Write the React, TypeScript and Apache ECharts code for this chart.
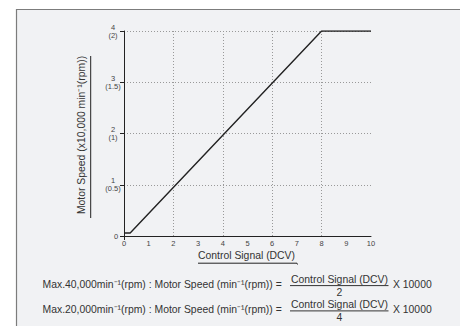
import React, { useEffect, useRef } from "react";
import * as echarts from "echarts";

const controlSignal = [0, 0.25, 8, 10];
const motorSpeed = [0.06, 0.06, 4, 4];
const xTickValues = [0, 1, 2, 3, 4, 5, 6, 7, 8, 9, 10];
const yTickLabels = ["0", "1\n(0.5)", "2\n(1)", "3\n(1.5)", "4\n(2)"];
const verticalGrid = [2, 4, 6, 8];
const xAxisName = "Control Signal (DCV)";
const yAxisName = "Motor Speed (x10,000 min\u207B\u00B9(rpm))";
const formulaLeft = [
  "Max.40,000min\u207B\u00B9(rpm) : Motor Speed (min\u207B\u00B9(rpm)) =",
  "Max.20,000min\u207B\u00B9(rpm) : Motor Speed (min\u207B\u00B9(rpm)) =",
];
const formulaNumerator = ["Control Signal (DCV)", "Control Signal (DCV)"];
const formulaDenominator = ["2", "4"];
const formulaRight = ["X 10000", "X 10000"];

const FONT = "'Liberation Sans', Arial, Helvetica, sans-serif";
const TEXT = "#333";

export default function App() {
  const ref = useRef<HTMLDivElement>(null);
  useEffect(() => {
    if (!ref.current) return;
    const chart = echarts.init(ref.current, undefined, { renderer: "svg" });
    const rows = [284, 309.3];
    const formulaGraphics: any[] = [];
    rows.forEach((y, i) => {
      formulaGraphics.push(
        { type: "text", x: 42.5, y, style: { text: formulaLeft[i], font: `10.4px ${FONT}`, fill: TEXT, align: "left", verticalAlign: "middle" } },
        { type: "text", x: 339.5, y: y - 4.6, style: { text: formulaNumerator[i], font: `10.4px ${FONT}`, fill: TEXT, align: "center", verticalAlign: "middle" } },
        { type: "line", shape: { x1: 290, y1: y + 1.6, x2: 388.5, y2: y + 1.6 }, style: { stroke: "#333", lineWidth: 1 } },
        { type: "text", x: 339.5, y: y + 8.6, style: { text: formulaDenominator[i], font: `10.4px ${FONT}`, fill: TEXT, align: "center", verticalAlign: "middle" } },
        { type: "text", x: 393, y, style: { text: formulaRight[i], font: `10.4px ${FONT}`, fill: TEXT, align: "left", verticalAlign: "middle" } }
      );
    });
    chart.setOption({
      animation: false,
      backgroundColor: "#ffffff",
      textStyle: { fontFamily: FONT },
      grid: { left: 124, right: 89, top: 31, bottom: 90, containLabel: false },
      xAxis: {
        type: "value",
        min: 0,
        max: 10,
        interval: 1,
        axisLine: { show: true, onZero: false, lineStyle: { color: "#222", width: 1 } },
        axisTick: { show: true, customValues: [0], length: 4, lineStyle: { color: "#222" } },
        axisLabel: { fontSize: 7.5, color: "#444", margin: 3, customValues: xTickValues },
        splitLine: { show: false },
      },
      yAxis: {
        type: "value",
        min: 0,
        max: 4,
        interval: 1,
        axisLine: { show: true, onZero: false, lineStyle: { color: "#222", width: 1 } },
        axisTick: { show: true, length: 4, lineStyle: { color: "#222" } },
        axisLabel: {
          fontSize: 7.5,
          color: "#444",
          lineHeight: 8,
          margin: 11,
          align: "center",
          formatter: (v: number) => (v === 0 ? "{z|" + yTickLabels[0] + "}" : yTickLabels[Math.round(v)]),
          rich: { z: { fontSize: 7.5, color: "#444", padding: [0, 0, 0, 6] } },
        },
        splitLine: { show: true, lineStyle: { color: "#999", type: [1, 2], width: 1 } },
      },
      series: [
        {
          type: "line",
          data: controlSignal.map((x, i) => [x, motorSpeed[i]]),
          symbol: "none",
          lineStyle: { color: "#222", width: 1.4 },
          silent: true,
          markLine: {
            silent: true,
            symbol: "none",
            label: { show: false },
            lineStyle: { color: "#999", type: [1, 2], width: 1 },
            data: verticalGrid.map((v) => ({ xAxis: v })),
          },
          z: 5,
        },
      ],
      graphic: [
        {
          type: "rect",
          z: -10,
          silent: true,
          shape: { x: 16.5, y: 9.5, width: 470, height: 340 },
          style: { fill: "#f1f2f4", stroke: "#7c7c7c", lineWidth: 1.2 },
        },
        {
          type: "text",
          x: 81,
          y: 135,
          rotation: Math.PI / 2,
          style: { text: yAxisName, font: `10.4px ${FONT}`, fill: TEXT, align: "center", verticalAlign: "middle" },
        },
        { type: "line", shape: { x1: 90.7, y1: 56, x2: 90.7, y2: 218 }, style: { stroke: "#222", lineWidth: 1 } },
        {
          type: "text",
          x: 246.5,
          y: 255.5,
          style: { text: xAxisName, font: `10.4px ${FONT}`, fill: TEXT, align: "center", verticalAlign: "middle" },
        },
        { type: "polyline", shape: { points: [[198, 263.2], [297, 263.2], [297.5, 264.5]] }, style: { stroke: "#222", lineWidth: 1, fill: null } },
        ...formulaGraphics,
      ],
    });
    return () => chart.dispose();
  }, []);
  return <div ref={ref} style={{ position: "absolute", left: 0, top: 0, width: 460, height: 326 }} />;
}
